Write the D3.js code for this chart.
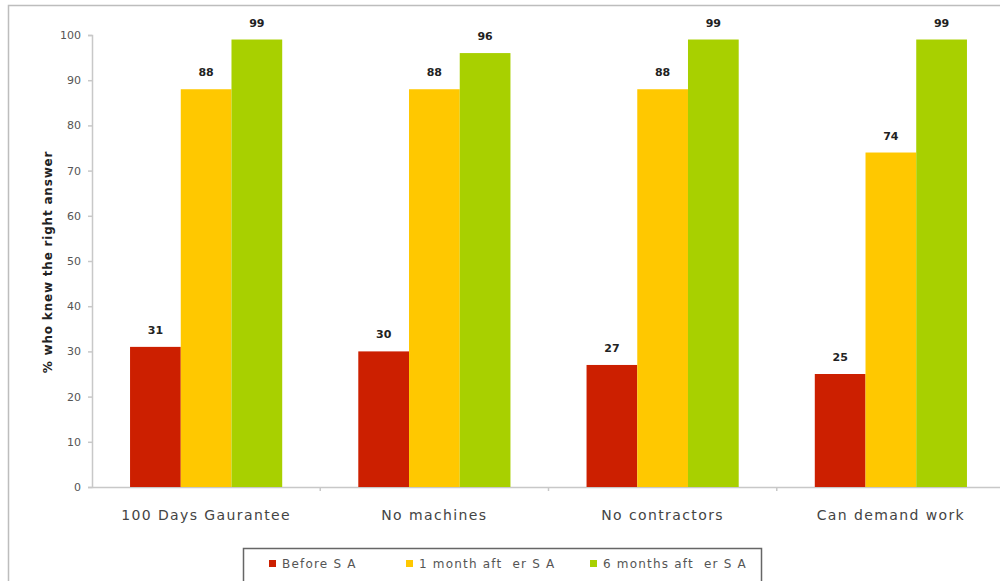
<!DOCTYPE html>
<html><head><meta charset="utf-8">
<script src="https://cdn.jsdelivr.net/npm/d3@7"></script>
<style>body{margin:0;background:#fff;overflow:hidden}</style>
</head><body>
<svg id="c" width="1000" height="581"></svg>
<script>
const categories = ["100 Days Gaurantee", "No machines", "No contractors", "Can demand work"];
const seriesNames = ["Before S A", "1 month aft  er S A", "6 months aft  er S A"];
const beforeSA = [31, 30, 27, 25];
const oneMonthAfter = [88, 88, 88, 74];
const sixMonthsAfter = [99, 96, 99, 99];
const yTicks = [0, 10, 20, 30, 40, 50, 60, 70, 80, 90, 100];
const colors = ["#CC1F00", "#FFC800", "#A8D000"];
const seriesValues = [beforeSA, oneMonthAfter, sixMonthsAfter];

(function () {
const svg = d3.select("#c");
const font = "'DejaVu Sans', Verdana, sans-serif";

// outer chart border
svg.append("rect").attr("x", 8.5).attr("y", 5.5).attr("width", 1010).attr("height", 600)
  .attr("fill", "none").attr("stroke", "#bdbdbd").attr("stroke-width", 1.5);

const pLeft = 92, pRight = 1005, pTop = 35, pBottom = 487;
const x0 = d3.scaleBand().domain(categories).range([pLeft, pRight]).paddingInner(0).paddingOuter(0);
const gapRatio = 1.5;
const groupW = x0.bandwidth() * 3 / (3 + gapRatio);
const x1 = d3.scaleBand().domain(d3.range(3)).range([0, groupW]);
const y = d3.scaleLinear().domain([0, 100]).range([pBottom, pTop]);

// y axis
const yAxis = svg.append("g").attr("transform", `translate(${pLeft},0)`)
  .call(d3.axisLeft(y).tickValues(yTicks).tickSize(4).tickPadding(7));
yAxis.select(".domain").attr("stroke", "#c8c8c8").attr("stroke-width", 1.5);
yAxis.selectAll(".tick line").attr("stroke", "#c8c8c8").attr("stroke-width", 1.5);
yAxis.selectAll(".tick text").attr("fill", "#555").style("font-family", font).style("font-size", "11px");

// x axis
const xAxis = svg.append("g").attr("transform", `translate(0,${pBottom})`)
  .call(d3.axisBottom(x0).tickSize(0).tickPadding(23));
xAxis.select(".domain").attr("stroke", "#c8c8c8").attr("stroke-width", 1.5);
xAxis.selectAll(".tick text").attr("fill", "#444").style("font-family", font).style("font-size", "14px").style("letter-spacing", "1.4px");
// category separator ticks
svg.append("g").selectAll("line").data(categories).join("line")
  .attr("x1", d => x0(d) + x0.bandwidth()).attr("x2", d => x0(d) + x0.bandwidth())
  .attr("y1", pBottom).attr("y2", pBottom + 4).attr("stroke", "#c8c8c8").attr("stroke-width", 1.5);

// bars
seriesValues.forEach((vals, si) => {
  const g = svg.append("g");
  g.selectAll("rect").data(vals).join("rect")
    .attr("x", (d, i) => x0(categories[i]) + (x0.bandwidth() - groupW) / 2 + x1(si))
    .attr("y", d => y(d))
    .attr("width", x1.bandwidth())
    .attr("height", d => pBottom - y(d))
    .attr("fill", colors[si]);
  g.selectAll("text").data(vals).join("text")
    .attr("x", (d, i) => x0(categories[i]) + (x0.bandwidth() - groupW) / 2 + x1(si) + x1.bandwidth() / 2)
    .attr("y", d => y(d) - 13)
    .attr("text-anchor", "middle")
    .attr("fill", "#222").style("font-family", font).style("font-size", "11px").style("font-weight", "bold")
    .text(d => d);
});

// axis title
svg.append("text").attr("transform", `translate(52,262) rotate(-90)`)
  .attr("text-anchor", "middle").attr("fill", "#222")
  .style("font-family", font).style("font-size", "12px").style("font-weight", "bold").style("letter-spacing", "0.8px")
  .text("% who knew the right answer");

// legend
const lg = svg.append("g");
lg.append("rect").attr("x", 243.5).attr("y", 548.5).attr("width", 518).attr("height", 50)
  .attr("fill", "#fff").attr("stroke", "#666").attr("stroke-width", 1.5);
const legX = [269, 406, 590];
seriesNames.forEach((n, i) => {
  lg.append("rect").attr("x", legX[i]).attr("y", 560).attr("width", 7).attr("height", 7).attr("fill", colors[i]);
  lg.append("text").attr("x", legX[i] + 13).attr("y", 568).attr("fill", "#555")
    .style("font-family", font).style("font-size", "12px").style("letter-spacing", "1.2px")
    .style("white-space", "pre").attr("xml:space", "preserve").text(n);
});
})();
</script>
</body></html>
